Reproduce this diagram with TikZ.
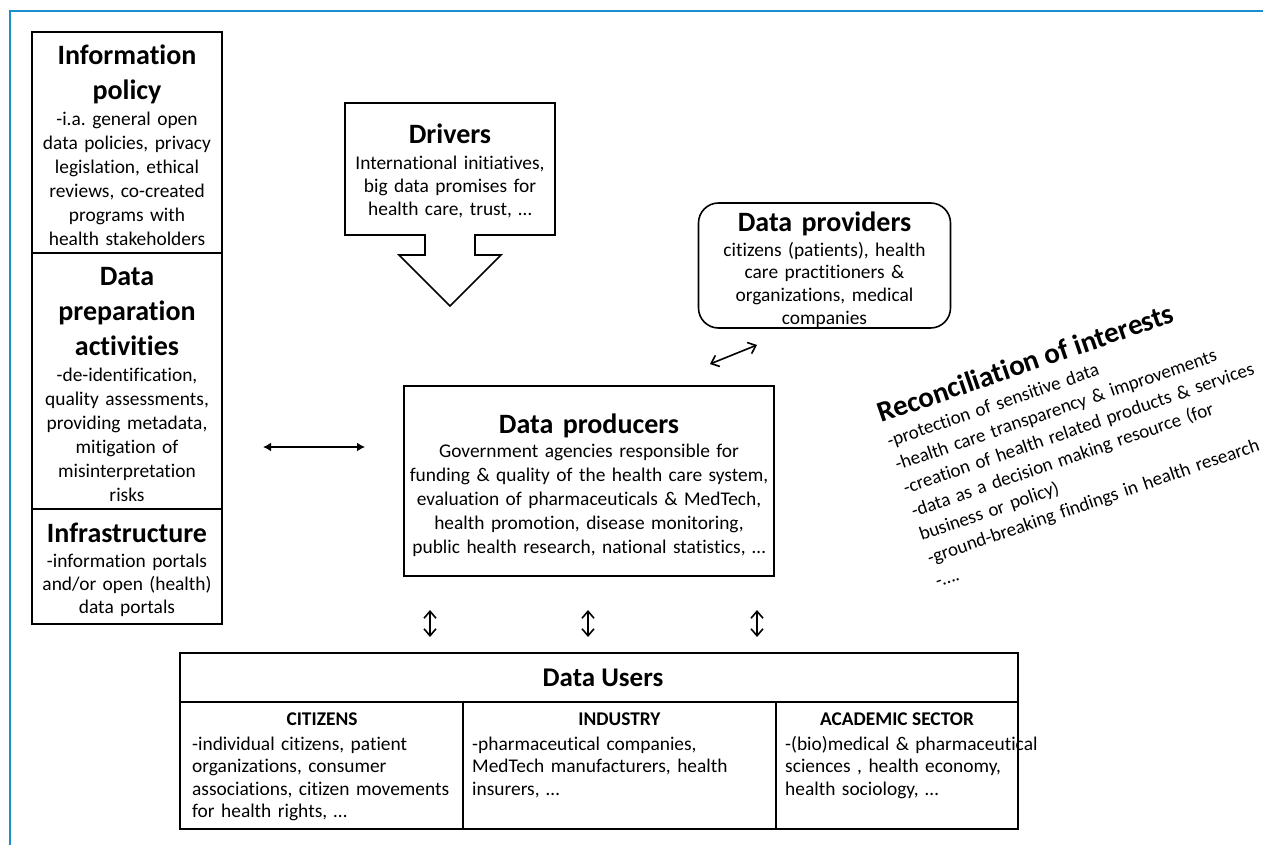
\documentclass[tikz,border=0pt]{standalone}
\usepackage{fontspec}
\setmainfont{Carlito}[Ligatures={NoCommon}]
\usetikzlibrary{arrows.meta}
\definecolor{frameblue}{RGB}{27,143,203}
\frenchspacing
\tikzset{
  box/.style={draw=black, line width=1.6pt, inner sep=0pt},
  ttl/.style={anchor=base, inner sep=0pt, text width=300pt, align=center, font=\fontsize{28}{#1}\selectfont\bfseries},
  bodyc/.style={anchor=base, inner sep=0pt, text width=420pt, align=center, font=\fontsize{19.4}{#1}\selectfont},
  bodyl/.style={anchor=base west, inner sep=0pt, text width=420pt, align=left, font=\fontsize{19.4}{#1}\selectfont},
  colhead/.style={anchor=base, inner sep=0pt, font=\fontsize{19.4}{24}\selectfont\bfseries},
  dblfilled/.style={{Latex[length=8pt,width=9pt]}-{Latex[length=8pt,width=9pt]}, line width=1.6pt},
  dblopen/.style={{Straight Barb[length=7pt,width=12pt]}-{Straight Barb[length=7pt,width=12pt]}, line width=1.6pt},
}
\begin{document}
\begin{tikzpicture}[x=1pt,y=1pt]
\useasboundingbox (0,0) rectangle (1263,-845);
% blue frame
\draw[frameblue, line width=2.5pt] (10,-845) -- (10,-11) -- (1263,-11);

% ---------- left column ----------
\node[box, minimum width=190pt, minimum height=592pt] (leftcol) at (127,-328) {};
\draw[line width=1.6pt] (32,-253) -- (222,-253);
\draw[line width=1.6pt] (32,-509) -- (222,-509);
\node[ttl=35] (ipT) at (127,-65) {Information\\policy};
\node[bodyc=24] (ipB) at (127,-126) {-i.a. general open\\data policies, privacy\\legislation, ethical\\reviews, co-created\\programs with\\health stakeholders};
\node[ttl=35] (dpT) at (127,-285) {Data\\preparation\\activities};
\node[bodyc=24] (dpB) at (127,-381) {-de-identification,\\quality assessments,\\providing metadata,\\mitigation of\\misinterpretation\\risks};
\node[ttl=35] (inT) at (127,-542) {Infrastructure};
\node[bodyc=23] (inB) at (127,-567) {-information portals\\and/or open (health)\\data portals};

% ---------- drivers ----------
\draw[line width=1.6pt, line join=miter] (345,-103) -- (555,-103) -- (555,-235) -- (475,-235) -- (475,-255) -- (501,-255) -- (450,-306) -- (399,-255) -- (425,-255) -- (425,-235) -- (345,-235) -- cycle;
\node[ttl=35] (drT) at (450,-144) {Drivers};
\node[bodyc=23] (drB) at (450,-170) {International initiatives,\\big data promises for\\health care, trust, \ldots};

% ---------- data providers ----------
\node[box, rounded corners=20pt, minimum width=252pt, minimum height=125pt] (prov) at (824.5,-265.5) {};
\node[ttl=35] (prT) at (824.5,-231) {Data providers};
\node[bodyc=22.7] (prB) at (824.5,-256) {citizens (patients), health\\care practitioners \&\\organizations, medical\\companies};

% ---------- data producers ----------
\node[box, minimum width=370pt, minimum height=190pt] (prod) at (589,-481) {};
\node[ttl=35] (pdT) at (589,-433) {Data producers};
\node[bodyc=24] (pdB) at (589,-457) {Government agencies responsible for\\funding \& quality of the health care system,\\evaluation of pharmaceuticals \& MedTech,\\health promotion, disease monitoring,\\public health research, national statistics, \ldots};

% ---------- reconciliation ----------
\node[anchor=base west, inner sep=0pt, rotate=19, font=\fontsize{29}{34}\selectfont\bfseries] (recT) at (881,-423) {Reconciliation of interests};
\node[anchor=base west, inner sep=0pt, text width=420pt, align=left, font=\fontsize{19}{24.7}\selectfont, rotate=19] (recB) at (889.5,-447.5) {-protection of sensitive data\\-health care transparency \& improvements\\-creation of health related products \& services\\-data as a decision making resource (for\\business or policy)\\-ground-breaking findings in health research\\-\ldots.};

% ---------- data users ----------
\node[box, minimum width=838pt, minimum height=176pt] (users) at (599,-741) {};
\draw[line width=1.6pt] (180,-702) -- (1018,-702);
\draw[line width=1.6pt] (463,-702) -- (463,-829);
\draw[line width=1.6pt] (776,-702) -- (776,-829);
\node[anchor=base, inner sep=0pt, font=\fontsize{27}{30}\selectfont\bfseries] (duT) at (603,-686) {Data Users};
\node[colhead] (cH) at (322,-725) {CITIZENS};
\node[colhead] (iH) at (619.5,-725) {INDUSTRY};
\node[colhead] (aH) at (897,-725) {ACADEMIC SECTOR};
\node[bodyl=22.5] (cB) at (192,-750) {-individual citizens, patient\\organizations, consumer\\associations, citizen movements\\for health rights, \ldots};
\node[bodyl=22.5] (iB) at (472,-750) {-pharmaceutical companies,\\MedTech manufacturers, health\\insurers, \ldots};
\node[bodyl=22.5] (aB) at (785,-750) {-(bio)medical \& pharmaceutical\\sciences , health economy,\\health sociology, \ldots};

% ---------- connectors ----------
\coordinate (la) at (263,-447);
\coordinate (lb) at (365,-447);
\draw[dblfilled] (la) -- (lb);
\coordinate (pa) at (710,-364);
\coordinate (pb) at (757,-345);
\draw[dblopen] (pa) -- (pb);
\foreach \x/\n in {430/1,588/2,757/3}{
  \coordinate (u\n a) at (\x,-610);
  \coordinate (u\n b) at (\x,-637);
  \draw[dblopen] (u\n a) -- (u\n b);
}
\end{tikzpicture}
\end{document}
